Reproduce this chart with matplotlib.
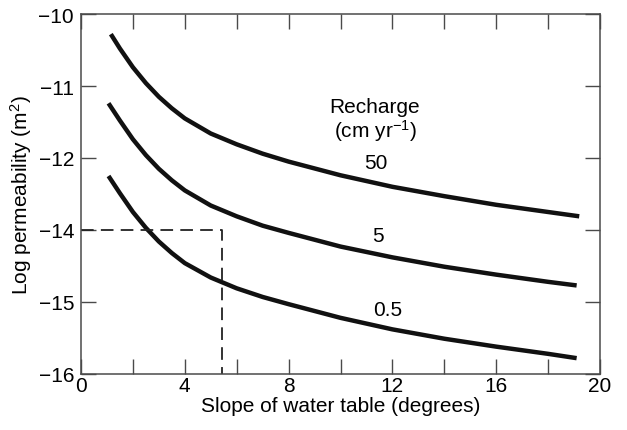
import matplotlib
matplotlib.use("Agg")
import matplotlib.pyplot as plt

plt.rcParams['font.family'] = ['Liberation Sans', 'DejaVu Sans']
plt.rcParams['mathtext.fontset'] = 'custom'
plt.rcParams['mathtext.rm'] = 'Liberation Sans'
plt.rcParams['mathtext.it'] = 'Liberation Sans:italic'
plt.rcParams['mathtext.bf'] = 'Liberation Sans:bold'

# Slope of water table (degrees) and log permeability (plot position units)
x_50 = [1.15, 1.5, 2.0, 2.5, 3.0, 3.5, 4.0, 5.0, 6.0, 7.0, 8.0, 10.0, 12.0, 14.0, 16.0, 18.0, 19.2]
y_50 = [-10.28, -10.48, -10.74, -10.96, -11.15, -11.31, -11.45, -11.66, -11.81, -11.94, -12.05,
        -12.24, -12.40, -12.53, -12.65, -12.75, -12.81]

x_5 = [1.06, 1.5, 2.0, 2.5, 3.0, 3.5, 4.0, 5.0, 6.0, 7.0, 8.0, 10.0, 12.0, 14.0, 16.0, 18.0, 19.1]
y_5 = [-11.24, -11.48, -11.74, -11.96, -12.15, -12.31, -12.45, -12.66, -12.81, -12.94, -13.04,
       -13.23, -13.38, -13.51, -13.62, -13.72, -13.77]

x_05 = [1.06, 1.5, 2.0, 2.5, 3.0, 3.5, 4.0, 5.0, 6.0, 7.0, 8.0, 10.0, 12.0, 14.0, 16.0, 18.0, 19.1]
y_05 = [-12.25, -12.49, -12.75, -12.97, -13.16, -13.32, -13.46, -13.66, -13.81, -13.93, -14.03,
        -14.22, -14.38, -14.51, -14.62, -14.72, -14.78]

recharge_labels = ["50", "5", "0.5"]

# dashed guide line (slope, permeability)
guide_x = [0, 5.45, 5.45]
guide_y = [-13, -13, -15]

x_ticks = [0, 4, 8, 12, 16, 20]
y_tick_pos = [-10, -11, -12, -13, -14, -15]
y_tick_labels = ["\u221210", "\u221211", "\u221212", "\u221214", "\u221215", "\u221216"]

fs = 15

fig = plt.figure(figsize=(6.27, 4.31), dpi=100)
ax = fig.add_axes([81/627, 1-375/431, (600-81)/627, (375-15)/431])

lw = 3.2
for xs, ys in [(x_50, y_50), (x_5, y_5), (x_05, y_05)]:
    ax.plot(xs, ys, color='#111111', lw=lw, solid_capstyle='butt', solid_joinstyle='round')
ax.plot(guide_x, guide_y, color='#222222', lw=1.3, ls=(0, (7, 4)))

ax.set_xlim(0, 20)
ax.set_ylim(-15, -10)

ax.set_xticks(x_ticks)
ax.set_xticklabels([str(v) for v in x_ticks])
ax.set_xticks([2, 6, 10, 14, 18], minor=True)
ax.set_yticks(y_tick_pos)
ax.set_yticklabels(y_tick_labels)

for s in ax.spines.values():
    s.set_color('#4a4a4a')
    s.set_linewidth(1.1)

ax.tick_params(which='both', direction='in', length=11, width=1.0, color='#4a4a4a',
               top=True, right=True, labelsize=fs)
ax.tick_params(axis='y', pad=5)
ax.tick_params(axis='x', pad=1.5)

ax.set_xlabel("Slope of water table (degrees)", fontsize=fs, labelpad=1)
ax.set_ylabel("Log permeability (m$^2$)", fontsize=fs, labelpad=3)

ax.text(11.33, -11.47, "Recharge\n(cm yr$^{\u22121}$)", ha='center', va='center',
        multialignment='center', linespacing=1.05, fontsize=fs)
ax.text(11.37, -12.06, recharge_labels[0], ha='center', va='center', fontsize=fs)
ax.text(11.46, -13.08, recharge_labels[1], ha='center', va='center', fontsize=fs)
ax.text(11.8, -14.10, recharge_labels[2], ha='center', va='center', fontsize=fs)

fig.savefig("out.png", dpi=100)
